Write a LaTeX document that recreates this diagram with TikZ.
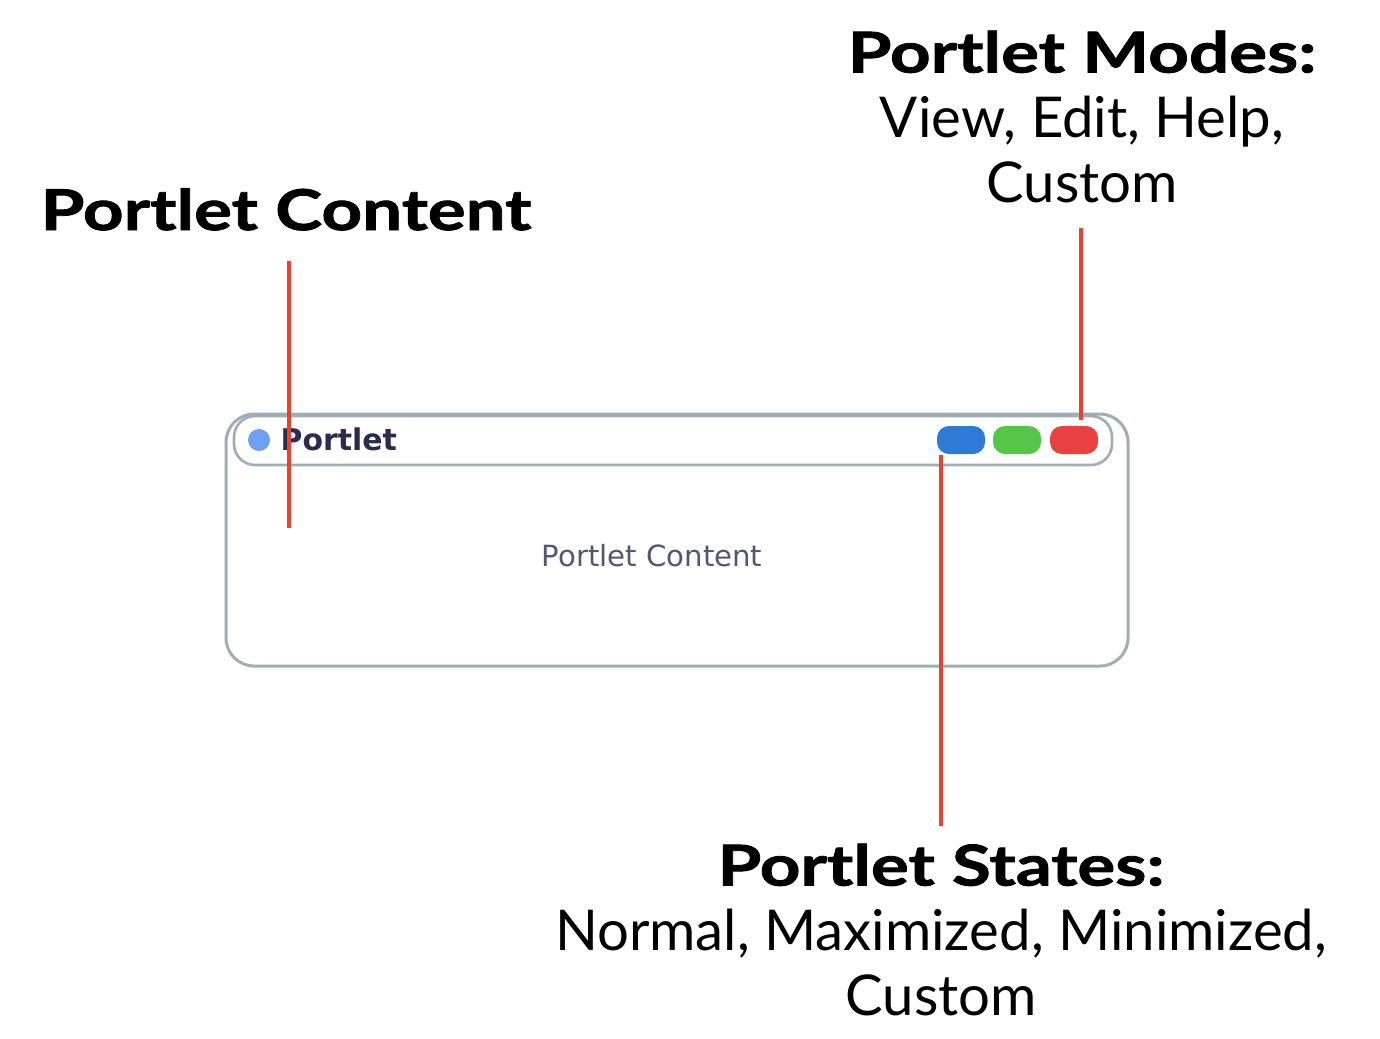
\documentclass[tikz,border=0pt]{standalone}
\usepackage{fontspec}
\setmainfont{Lato}
\newfontfamily\headfont{Lato}[FakeStretch=1.26, FakeBold=1.5]
\newfontfamily\widgetfont{DejaVu Sans}
\usetikzlibrary{positioning}
\definecolor{pointerred}{HTML}{E8432E}
\definecolor{framegray}{HTML}{9FAEB6}
\definecolor{btnblue}{HTML}{2F7AD4}
\definecolor{btngreen}{HTML}{55C64A}
\definecolor{btnred}{HTML}{E8413F}
\definecolor{dotblue}{HTML}{70A0F2}
\definecolor{ink}{HTML}{2B2B52}
\newcommand\headtext[1]{{\headfont\bfseries #1}}
\tikzset{
	heading/.style={font=\fontsize{16}{18.5}\selectfont\headfont\bfseries, inner sep=0pt},
	caption/.style={font=\fontsize{16}{18.5}\selectfont, align=center, inner sep=0pt},
	pointer/.style={draw=pointerred, line width=1.15pt},
	button/.style={rounded corners=3.4pt, minimum width=0.48cm, minimum height=0.28cm, inner sep=0pt},
	widget/.style={text=ink, inner sep=0pt}
}
\begin{document}
\begin{tikzpicture}[x=0.01cm, y=-0.01cm]
				\useasboundingbox (0,0) rectangle (1380,1038);
				
				\draw[framegray, line width=0.85pt, rounded corners=8pt] (226,414) rectangle (1128,666);
				\draw[framegray, line width=0.75pt, fill=white, rounded corners=6pt] (234,416) rectangle (1112,465);
				\fill[dotblue] (259,440) circle (0.11cm);
				\node[widget, font=\widgetfont\bfseries\fontsize{8.5}{10}\selectfont, anchor=base west] (title) at (280,450) {Portlet};
				\node[button, fill=btnblue] (btnState) at (961,440) {};
				\node[button, fill=btngreen] (btnSize) at (1017,440) {};
				\node[button, fill=btnred] (btnMode) at (1074,440) {};
				\node[widget, text=ink!80, font=\widgetfont\fontsize{8.3}{10}\selectfont] (body) at (652,556) {Portlet Content};
				
				\node[heading, anchor=base] (content) at (286,230) {Portlet Content};
				\node[caption, anchor=north] (modes) at (1082,30) {\headtext{Portlet Modes:}\\View, Edit, Help,\\Custom};
				\node[caption, anchor=north] (states) at (941,843) {\headtext{Portlet States:}\\Normal, Maximized, Minimized,\\Custom};
				
				\coordinate (contentTip) at (289,528);
				\coordinate (modesTip) at (1081,420);
				\coordinate (statesTip) at (941,826);
				\draw[pointer] ([yshift=-0.3cm]content.south -| contentTip) -- (contentTip);
				\draw[pointer] ([yshift=-0.24cm]modes.south -| modesTip) -- (modesTip);
				\draw[pointer] (btnState.south -| statesTip) -- (statesTip);
\end{tikzpicture}
\end{document}
